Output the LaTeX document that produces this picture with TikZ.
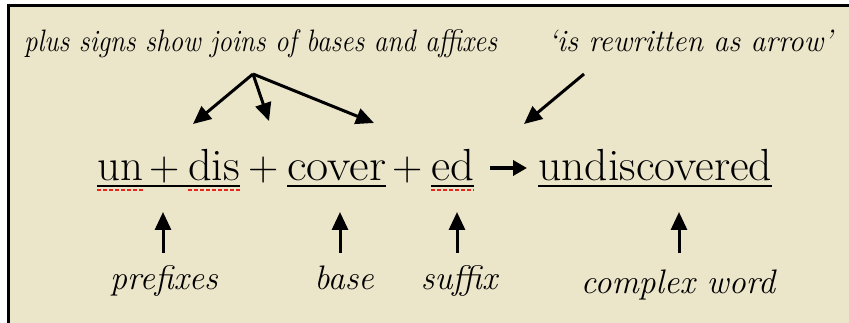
\documentclass[tikz,border=0pt]{standalone}
\usepackage{fontspec}
\usepackage{graphicx}
\newcommand\tnr{\rmfamily}
\newcommand\fitw[2]{\resizebox{#1}{\height}{#2}}
\usetikzlibrary{arrows.meta}
\definecolor{cream}{RGB}{235,229,201}
\definecolor{squig}{RGB}{230,40,30}
\tikzset{
  word/.style={inner sep=0pt, anchor=base west, font=\tnr\fontsize{45}{50}\selectfont},
  plus/.style={inner sep=0pt, anchor=base, font=\tnr\fontsize{42}{50}\selectfont},
  toplabel/.style={inner sep=0pt, anchor=base west, font=\tnr\fontsize{31}{36}\selectfont\itshape},
  botlabel/.style={inner sep=0pt, anchor=base, font=\tnr\fontsize{34}{38}\selectfont\itshape},
  uline/.style={line width=1.6pt},
  redsq/.style={squig, line width=2.2pt, dash pattern=on 4pt off 2pt},
  arr/.style={line width=3pt, -{Triangle[length=18pt,width=16pt]}},
}
\begin{document}
\begin{tikzpicture}[x=1pt,y=-1pt]
\useasboundingbox (0,0) rectangle (849,323);
\fill[white] (0,0) rectangle (849,323);
\fill[cream] (8,6) rectangle (849,323);
\draw[line width=3pt] (8,323) -- (8,6) -- (849,6);

% top labels
\node[toplabel] (joins) at (24,52) {\fitw{473pt}{plus signs show joins of bases and affixes}};
\node[toplabel] (rewr) at (548,52) {\fitw{284pt}{‘is rewritten as arrow’}};

% main line
\node[word] (un) at (97,181) {\fitw{46pt}{un}};
\node[plus] (p1) at (165,181) {+};
\node[word] (dis) at (188,181) {\fitw{52pt}{dis}};
\node[plus] (p2) at (264,181) {+};
\node[word] (cover) at (287,181) {\fitw{99pt}{cover}};
\node[plus] (p3) at (408,181) {+};
\node[word] (ed) at (431,181) {\fitw{43pt}{ed}};
\node[word] (und) at (538,181) {\fitw{234pt}{undiscovered}};
\coordinate (rs) at (490,168);
\coordinate (re) at (527,168);
\draw[line width=4pt, -{Triangle[length=14pt,width=15pt]}] (rs) -- (re);

% underlines
\draw[uline] ([yshift=-5pt]un.base west) -- ([yshift=-5pt]dis.base east);
\draw[uline] ([yshift=-5pt]cover.base west) -- ([yshift=-5pt]cover.base east);
\draw[uline] ([yshift=-5pt]ed.base west) -- ([yshift=-5pt]ed.base east);
\draw[uline] ([yshift=-5pt]und.base west) -- ([yshift=-5pt]und.base east);
\draw[redsq] ([yshift=-9pt]un.base west) -- ([yshift=-9pt]un.base east);
\draw[redsq] ([yshift=-9pt]dis.base west) -- ([yshift=-9pt]dis.base east);
\draw[redsq] ([yshift=-9pt]ed.base west) -- ([yshift=-9pt]ed.base east);

% arrows from top labels
\coordinate (apex) at (253,74);
\coordinate (t1) at (193,124);
\coordinate (t2) at (269,121);
\coordinate (t3) at (374,123);
\draw[arr] (apex) -- (t1);
\draw[arr] (apex) -- (t2);
\draw[arr] (apex) -- (t3);
\coordinate (ra) at (584,74);
\coordinate (rb) at (524,124);
\draw[arr] (ra) -- (rb);

% bottom labels
\node[botlabel] (pre) at (164,290) {prefixes};
\node[botlabel] (bas) at (344,290) {base};
\node[botlabel] (suf) at (459,290) {suffix};
\node[botlabel] (cw) at (678,293) {complex word};
\draw[arr] (163,253) -- (163,212);
\draw[arr] (340,253) -- (340,212);
\draw[arr] (457,253) -- (457,212);
\draw[arr] (679,253) -- (679,212);
\end{tikzpicture}
\end{document}
